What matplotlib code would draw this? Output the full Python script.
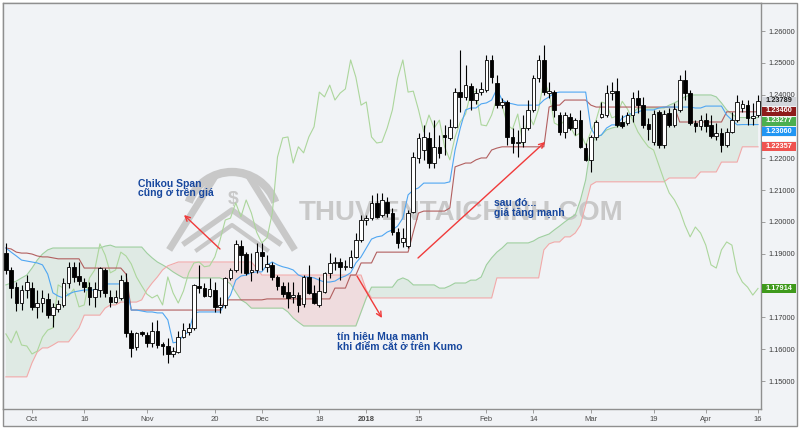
import matplotlib
matplotlib.use("Agg")
import matplotlib.pyplot as plt
import matplotlib.transforms as mtransforms
from matplotlib.patches import Rectangle, Arc
from matplotlib.lines import Line2D
import numpy as np

plt.rcParams['font.family'] = ['Liberation Sans', 'DejaVu Sans']

# ---------------- data ----------------
tick_labels = ["Oct", "16", "Nov", "20", "Dec", "18", "2018", "15", "Feb", "14", "Mar", "19", "Apr", "16"]
tick_bars = [5, 15, 27, 40, 49, 60, 69, 79, 92, 101, 112, 124, 134, 144]

opens = [1.1902, 1.1849, 1.1795, 1.1745, 1.1786, 1.1792, 1.1733, 1.1745, 1.1758, 1.1707,
         1.1726, 1.1739, 1.1808, 1.1859, 1.1830, 1.1811, 1.1795, 1.1764, 1.1786, 1.1849,
         1.1764, 1.1748, 1.1761, 1.1811, 1.1651, 1.1607, 1.1654, 1.1645, 1.1620, 1.1657,
         1.1616, 1.1610, 1.1585, 1.1591, 1.1638, 1.1654, 1.1667, 1.1799, 1.1792, 1.1767,
         1.1786, 1.1733, 1.1739, 1.1824, 1.1849, 1.1924, 1.1899, 1.1843, 1.1849, 1.1905,
         1.1859, 1.1865, 1.1827, 1.1799, 1.1780, 1.1764, 1.1770, 1.1742, 1.1827, 1.1777,
         1.1739, 1.1780, 1.1840, 1.1871, 1.1874, 1.1859, 1.1859, 1.1890, 1.1943, 1.2006,
         1.2012, 1.2060, 1.2022, 1.2063, 1.2028, 1.1968, 1.1937, 1.1924, 1.2031, 1.2201,
         1.2226, 1.2264, 1.2185, 1.2236, 1.2273, 1.2264, 1.2299, 1.2408, 1.2393, 1.2427,
         1.2383, 1.2408, 1.2415, 1.2509, 1.2437, 1.2367, 1.2377, 1.2267, 1.2248, 1.2251,
         1.2295, 1.2352, 1.2452, 1.2509, 1.2405, 1.2408, 1.2336, 1.2283, 1.2330, 1.2295,
         1.2320, 1.2232, 1.2195, 1.2267, 1.2330, 1.2336, 1.2405, 1.2411, 1.2314, 1.2311,
         1.2336, 1.2389, 1.2367, 1.2308, 1.2251, 1.2345, 1.2242, 1.2342, 1.2305, 1.2352,
         1.2446, 1.2405, 1.2311, 1.2302, 1.2320, 1.2305, 1.2270, 1.2280, 1.2242, 1.2283,
         1.2320, 1.2358, 1.2367, 1.2327, 1.2336]

highs = [1.1934, 1.1859, 1.1811, 1.1802, 1.1833, 1.1811, 1.1786, 1.1786, 1.1777, 1.1745,
         1.1755, 1.1824, 1.1874, 1.1874, 1.1874, 1.1824, 1.1811, 1.1811, 1.1859, 1.1855,
         1.1786, 1.1786, 1.1833, 1.1840, 1.1660, 1.1654, 1.1657, 1.1654, 1.1685, 1.1692,
         1.1623, 1.1635, 1.1607, 1.1657, 1.1682, 1.1682, 1.1805, 1.1865, 1.1808, 1.1824,
         1.1811, 1.1764, 1.1827, 1.1855, 1.1943, 1.1943, 1.1905, 1.1902, 1.1934, 1.1934,
         1.1896, 1.1874, 1.1833, 1.1811, 1.1811, 1.1811, 1.1780, 1.1833, 1.1865, 1.1802,
         1.1827, 1.1843, 1.1902, 1.1890, 1.1887, 1.1880, 1.1912, 1.1965, 1.2022, 1.2022,
         1.2085, 1.2091, 1.2091, 1.2078, 1.2044, 1.1981, 1.1981, 1.2037, 1.2220, 1.2280,
         1.2305, 1.2283, 1.2320, 1.2273, 1.2305, 1.2324, 1.2421, 1.2540, 1.2493, 1.2437,
         1.2421, 1.2440, 1.2525, 1.2525, 1.2462, 1.2389, 1.2383, 1.2295, 1.2289, 1.2336,
         1.2383, 1.2462, 1.2525, 1.2556, 1.2440, 1.2415, 1.2345, 1.2345, 1.2342, 1.2327,
         1.2352, 1.2248, 1.2273, 1.2320, 1.2377, 1.2430, 1.2440, 1.2452, 1.2336, 1.2345,
         1.2408, 1.2415, 1.2393, 1.2327, 1.2352, 1.2352, 1.2352, 1.2358, 1.2374, 1.2462,
         1.2477, 1.2415, 1.2320, 1.2336, 1.2342, 1.2336, 1.2311, 1.2295, 1.2295, 1.2345,
         1.2399, 1.2383, 1.2383, 1.2374, 1.2399]

lows = [1.1836, 1.1761, 1.1720, 1.1723, 1.1761, 1.1723, 1.1698, 1.1717, 1.1698, 1.1670,
        1.1717, 1.1733, 1.1792, 1.1811, 1.1802, 1.1780, 1.1739, 1.1733, 1.1764, 1.1764,
        1.1733, 1.1745, 1.1755, 1.1638, 1.1576, 1.1597, 1.1642, 1.1607, 1.1607, 1.1604,
        1.1582, 1.1557, 1.1576, 1.1588, 1.1635, 1.1645, 1.1660, 1.1777, 1.1764, 1.1764,
        1.1717, 1.1714, 1.1729, 1.1817, 1.1843, 1.1840, 1.1833, 1.1814, 1.1840, 1.1849,
        1.1843, 1.1817, 1.1786, 1.1764, 1.1729, 1.1745, 1.1717, 1.1733, 1.1773, 1.1742,
        1.1733, 1.1777, 1.1824, 1.1849, 1.1817, 1.1849, 1.1855, 1.1887, 1.1937, 1.1990,
        1.2006, 1.2012, 1.2016, 1.2016, 1.1959, 1.1918, 1.1921, 1.1918, 1.2028, 1.2185,
        1.2195, 1.2170, 1.2170, 1.2201, 1.2210, 1.2258, 1.2295, 1.2345, 1.2383, 1.2352,
        1.2371, 1.2399, 1.2408, 1.2437, 1.2358, 1.2358, 1.2242, 1.2217, 1.2204, 1.2236,
        1.2289, 1.2345, 1.2440, 1.2399, 1.2389, 1.2330, 1.2273, 1.2264, 1.2289, 1.2273,
        1.2232, 1.2191, 1.2157, 1.2258, 1.2327, 1.2330, 1.2383, 1.2299, 1.2295, 1.2305,
        1.2314, 1.2342, 1.2295, 1.2258, 1.2242, 1.2232, 1.2232, 1.2299, 1.2299, 1.2345,
        1.2383, 1.2305, 1.2283, 1.2289, 1.2283, 1.2264, 1.2258, 1.2220, 1.2236, 1.2280,
        1.2314, 1.2345, 1.2305, 1.2305, 1.2330]

closes = [1.1849, 1.1792, 1.1745, 1.1786, 1.1811, 1.1733, 1.1745, 1.1761, 1.1707, 1.1733,
          1.1742, 1.1808, 1.1859, 1.1827, 1.1814, 1.1795, 1.1764, 1.1789, 1.1855, 1.1777,
          1.1748, 1.1764, 1.1817, 1.1651, 1.1604, 1.1651, 1.1648, 1.1620, 1.1657, 1.1613,
          1.1610, 1.1585, 1.1594, 1.1638, 1.1660, 1.1667, 1.1802, 1.1792, 1.1767, 1.1789,
          1.1733, 1.1739, 1.1824, 1.1849, 1.1931, 1.1896, 1.1840, 1.1849, 1.1905, 1.1893,
          1.1868, 1.1827, 1.1799, 1.1773, 1.1761, 1.1770, 1.1739, 1.1827, 1.1777, 1.1745,
          1.1783, 1.1840, 1.1871, 1.1874, 1.1859, 1.1862, 1.1890, 1.1943, 1.2006, 1.2012,
          1.2060, 1.2016, 1.2069, 1.2028, 1.1968, 1.1934, 1.1950, 1.2028, 1.2204, 1.2264,
          1.2267, 1.2185, 1.2236, 1.2217, 1.2267, 1.2299, 1.2408, 1.2393, 1.2430, 1.2383,
          1.2405, 1.2418, 1.2509, 1.2455, 1.2367, 1.2377, 1.2267, 1.2248, 1.2251, 1.2295,
          1.2352, 1.2452, 1.2509, 1.2408, 1.2411, 1.2352, 1.2283, 1.2336, 1.2295, 1.2320,
          1.2236, 1.2195, 1.2267, 1.2314, 1.2339, 1.2405, 1.2411, 1.2305, 1.2302, 1.2336,
          1.2389, 1.2367, 1.2305, 1.2292, 1.2339, 1.2242, 1.2339, 1.2305, 1.2355, 1.2446,
          1.2405, 1.2311, 1.2302, 1.2320, 1.2302, 1.2270, 1.2280, 1.2242, 1.2283, 1.2320,
          1.2377, 1.2371, 1.2327, 1.2333, 1.2379]

tenkan = [1.1918, 1.1905, 1.1893, 1.1880, 1.1877, 1.1874, 1.1871, 1.1865, 1.1836, 1.1777,
          1.1767, 1.1761, 1.1773, 1.1780, 1.1783, 1.1786, 1.1786, 1.1786, 1.1786, 1.1805,
          1.1805, 1.1805, 1.1805, 1.1805, 1.1723, 1.1723, 1.1720, 1.1717, 1.1717, 1.1714,
          1.1714, 1.1692, 1.1620, 1.1623, 1.1645, 1.1654, 1.1714, 1.1717, 1.1717, 1.1717,
          1.1717, 1.1717, 1.1745, 1.1770, 1.1817, 1.1830, 1.1833, 1.1840, 1.1843, 1.1843,
          1.1865, 1.1874, 1.1865, 1.1859, 1.1855, 1.1849, 1.1833, 1.1827, 1.1827, 1.1824,
          1.1817, 1.1811, 1.1811, 1.1814, 1.1824, 1.1830, 1.1840, 1.1871, 1.1890, 1.1918,
          1.1946, 1.1953, 1.1956, 1.1968, 1.1975, 1.1987, 1.2012, 1.2085, 1.2100, 1.2107,
          1.2122, 1.2122, 1.2122, 1.2122, 1.2122, 1.2126, 1.2226, 1.2295, 1.2352, 1.2358,
          1.2358, 1.2371, 1.2374, 1.2383, 1.2418, 1.2383, 1.2374, 1.2371, 1.2367, 1.2367,
          1.2367, 1.2367, 1.2367, 1.2383, 1.2393, 1.2405, 1.2408, 1.2408, 1.2408, 1.2408,
          1.2408, 1.2408, 1.2295, 1.2267, 1.2273, 1.2295, 1.2305, 1.2305, 1.2327, 1.2336,
          1.2342, 1.2345, 1.2352, 1.2352, 1.2352, 1.2358, 1.2361, 1.2361, 1.2361, 1.2361,
          1.2361, 1.2361, 1.2358, 1.2358, 1.2364, 1.2364, 1.2364, 1.2364, 1.2336, 1.2320,
          1.2305, 1.2306, 1.2306, 1.2306, 1.2306]

kijun = [1.1918, 1.1915, 1.1905, 1.1902, 1.1902, 1.1899, 1.1893, 1.1890, 1.1890, 1.1887,
         1.1884, 1.1884, 1.1884, 1.1884, 1.1884, 1.1855, 1.1855, 1.1855, 1.1855, 1.1855,
         1.1855, 1.1855, 1.1855, 1.1836, 1.1723, 1.1723, 1.1723, 1.1723, 1.1723, 1.1723,
         1.1723, 1.1723, 1.1723, 1.1723, 1.1723, 1.1723, 1.1723, 1.1723, 1.1723, 1.1723,
         1.1723, 1.1723, 1.1755, 1.1755, 1.1755, 1.1755, 1.1755, 1.1755, 1.1755, 1.1755,
         1.1758, 1.1758, 1.1758, 1.1758, 1.1758, 1.1758, 1.1758, 1.1758, 1.1758, 1.1758,
         1.1758, 1.1758, 1.1758, 1.1792, 1.1792, 1.1792, 1.1833, 1.1833, 1.1871, 1.1871,
         1.1871, 1.1905, 1.1905, 1.1905, 1.1905, 1.1905, 1.1905, 1.1905, 1.1968, 1.2028,
         1.2034, 1.2034, 1.2034, 1.2034, 1.2034, 1.2044, 1.2173, 1.2179, 1.2185, 1.2185,
         1.2195, 1.2201, 1.2201, 1.2226, 1.2232, 1.2236, 1.2236, 1.2236, 1.2236, 1.2236,
         1.2236, 1.2236, 1.2236, 1.2236, 1.2361, 1.2367, 1.2367, 1.2383, 1.2383, 1.2383,
         1.2383, 1.2383, 1.2367, 1.2361, 1.2361, 1.2361, 1.2361, 1.2361, 1.2361, 1.2361,
         1.2361, 1.2361, 1.2361, 1.2361, 1.2361, 1.2361, 1.2361, 1.2361, 1.2361, 1.2314,
         1.2314, 1.2314, 1.2314, 1.2314, 1.2314, 1.2314, 1.2314, 1.2314, 1.2346, 1.2346,
         1.2346, 1.2346, 1.2346, 1.2346, 1.2346]

senkou_a = [1.1802, 1.1808, 1.1814, 1.1824, 1.1833, 1.1855, 1.1880, 1.1899, 1.1912, 1.1918,
            1.1918, 1.1918, 1.1918, 1.1918, 1.1918, 1.1918, 1.1918, 1.1918, 1.1918, 1.1924,
            1.1927, 1.1921, 1.1921, 1.1921, 1.1921, 1.1921, 1.1921, 1.1902, 1.1887, 1.1874,
            1.1865, 1.1855, 1.1843, 1.1833, 1.1824, 1.1824, 1.1824, 1.1824, 1.1824, 1.1824,
            1.1824, 1.1824, 1.1817, 1.1805, 1.1780, 1.1755, 1.1745, 1.1729, 1.1729, 1.1729,
            1.1729, 1.1729, 1.1729, 1.1729, 1.1717, 1.1698, 1.1685, 1.1673, 1.1673, 1.1673,
            1.1673, 1.1673, 1.1673, 1.1673, 1.1673, 1.1673, 1.1673, 1.1673, 1.1717, 1.1761,
            1.1795, 1.1795, 1.1795, 1.1795, 1.1795, 1.1817, 1.1824, 1.1817, 1.1802, 1.1802,
            1.1802, 1.1802, 1.1802, 1.1792, 1.1792, 1.1799, 1.1808, 1.1808, 1.1808, 1.1817,
            1.1817, 1.1827, 1.1865, 1.1887, 1.1905, 1.1918, 1.1934, 1.1934, 1.1934, 1.1934,
            1.1934, 1.1940, 1.1950, 1.1956, 1.1962, 1.1975, 1.1987, 1.2000, 1.2012, 1.2022,
            1.2069, 1.2132, 1.2242, 1.2267, 1.2273, 1.2289, 1.2295, 1.2299, 1.2305, 1.2320,
            1.2342, 1.2358, 1.2358, 1.2358, 1.2358, 1.2358, 1.2358, 1.2367, 1.2374, 1.2383,
            1.2393, 1.2399, 1.2399, 1.2399, 1.2399, 1.2399, 1.2393, 1.2374, 1.2352, 1.2339,
            1.2328, 1.2328, 1.2328, 1.2328, 1.2328]

senkou_b = [1.1513, 1.1513, 1.1513, 1.1513, 1.1513, 1.1557, 1.1591, 1.1604, 1.1604, 1.1613,
            1.1623, 1.1623, 1.1623, 1.1645, 1.1667, 1.1707, 1.1707, 1.1707, 1.1707, 1.1729,
            1.1739, 1.1739, 1.1748, 1.1748, 1.1748, 1.1748, 1.1755, 1.1786, 1.1808, 1.1827,
            1.1849, 1.1862, 1.1868, 1.1874, 1.1874, 1.1874, 1.1874, 1.1874, 1.1874, 1.1874,
            1.1874, 1.1874, 1.1874, 1.1874, 1.1874, 1.1874, 1.1874, 1.1874, 1.1855, 1.1833,
            1.1833, 1.1833, 1.1833, 1.1833, 1.1833, 1.1833, 1.1833, 1.1833, 1.1833, 1.1833,
            1.1833, 1.1833, 1.1833, 1.1833, 1.1833, 1.1833, 1.1833, 1.1833, 1.1833, 1.1786,
            1.1761, 1.1761, 1.1761, 1.1761, 1.1761, 1.1761, 1.1761, 1.1761, 1.1761, 1.1761,
            1.1761, 1.1761, 1.1761, 1.1761, 1.1761, 1.1761, 1.1761, 1.1761, 1.1761, 1.1761,
            1.1761, 1.1761, 1.1761, 1.1761, 1.1824, 1.1824, 1.1824, 1.1824, 1.1824, 1.1824,
            1.1824, 1.1824, 1.1824, 1.1912, 1.1931, 1.1937, 1.1937, 1.1953, 1.1953, 1.1965,
            1.1990, 1.2053, 1.2116, 1.2126, 1.2126, 1.2126, 1.2126, 1.2126, 1.2126, 1.2126,
            1.2126, 1.2126, 1.2126, 1.2126, 1.2126, 1.2126, 1.2126, 1.2138, 1.2138, 1.2138,
            1.2138, 1.2138, 1.2138, 1.2157, 1.2157, 1.2157, 1.2157, 1.2188, 1.2188, 1.2188,
            1.2188, 1.2236, 1.2236, 1.2236, 1.2236]

# closes after the visible window, used by the lagging (Chikou) span
chikou_future = [1.2355, 1.2320, 1.2283, 1.2258, 1.2236, 1.2226, 1.2179, 1.2132, 1.2091, 1.2069,
                 1.2037, 1.1990, 1.1953, 1.1984, 1.1965, 1.1927, 1.1865, 1.1855, 1.1912, 1.1937,
                 1.1927, 1.1843, 1.1811, 1.1795, 1.1770, 1.1791]
chikou_shift = 26

y_ticks = [1.15, 1.16, 1.17, 1.18, 1.19, 1.20, 1.21, 1.22, 1.23, 1.24, 1.25, 1.26]
# tick labels that sit fully under a value label box on the price scale
covered_ticks = [1.18, 1.23]

# right-axis value labels: (text, box colour, text colour, box top px, box bottom px)
value_labels = [("1.23789", "#d3d6dc", "#202020", 96.5, 105.5),
                ("1.23460", "#8e1b1b", "white", 106.5, 115.5),
                ("1.23277", "#4caf50", "white", 116.5, 125.5),
                ("1.23060", "#2196f3", "white", 127.0, 136.0),
                ("", "#ffffff", "white", 137.0, 141.0),
                ("1.22357", "#ef5350", "white", 142.0, 151.0),
                ("1.17914", "#3f9a1c", "white", 283.5, 292.5)]

# ---------------- figure ----------------
W, H = 800, 429
BG = '#f1f3f6'
fig = plt.figure(figsize=(W / 100, H / 100), dpi=100)
fig.patch.set_facecolor('white')
fig.add_artist(Rectangle((3 / W, 3 / H), 794 / W, 423 / H, transform=fig.transFigure,
                         facecolor=BG, edgecolor='#8f8f8f', lw=1.0, zorder=-10))

ax = fig.add_axes([3 / W, 20 / H, 758 / W, 406 / H])
ax.set_facecolor(BG)
for s in ax.spines.values():
    s.set_color('#8f8f8f')
    s.set_linewidth(1.0)

x = np.arange(len(closes))
o = np.array(opens); h = np.array(highs); l = np.array(lows); c = np.array(closes)
sa = np.array(senkou_a); sb = np.array(senkou_b)

# cloud
ax.fill_between(x, sa, sb, where=sa >= sb, interpolate=True, color='#43a047', alpha=0.10, lw=0, zorder=1)
ax.fill_between(x, sa, sb, where=sa < sb, interpolate=True, color='#e53935', alpha=0.12, lw=0, zorder=1)

# watermark (behind everything that carries data)
idt = mtransforms.IdentityTransform()
wm = '#c8c8c8'
ax.add_patch(Arc((232, H - 218), 92, 92, theta1=20, theta2=160, lw=6, color=wm, transform=idt, zorder=1.5))
ax.add_line(Line2D([171, 214], [H - 247, H - 178], lw=5, color=wm, transform=idt, zorder=1.5))
ax.add_line(Line2D([250, 293], [H - 178, H - 247], lw=5, color=wm, transform=idt, zorder=1.5))
ax.add_line(Line2D([185, 232, 279], [H - 243, H - 210, H - 243], lw=4, color=wm, transform=idt, zorder=1.5))
ax.add_line(Line2D([197, 232, 267], [H - 250, H - 225, H - 250], lw=3, color=wm, transform=idt, zorder=1.5))
ax.text(233, H - 200, '$', transform=idt, fontsize=14, fontweight='bold', color=wm,
        ha='center', va='center', zorder=1.5)
ax.text(296 / 758, (409 - 213.5) / 406, 'THUVIENTAICHINH.COM', transform=ax.transAxes,
        fontsize=20, fontweight='bold', color=wm, ha='left', va='center',
        family='Liberation Sans', zorder=1.5)

# ichimoku lines
lw = 0.8
ax.plot(x, sa, color='#9fcf9f', lw=lw, zorder=2)
ax.plot(x, sb, color='#f2a9a9', lw=lw, zorder=2)
chikou = list(closes[chikou_shift:]) + chikou_future
ax.plot(x, chikou, color='#acd69c', lw=lw, zorder=2)
ax.plot(x, kijun, color='#b25f5f', lw=lw, zorder=2.2)
ax.plot(x, tenkan, color='#4fa6f2', lw=lw, zorder=2.2)

# candles
ax.vlines(x, l, h, color='black', lw=0.8, zorder=3)
up = c >= o
body_lo = np.minimum(o, c)
body_h = np.maximum(np.abs(c - o), 0.00008)
ax.bar(x[up], body_h[up], bottom=body_lo[up], width=0.7, color='white', edgecolor='black', lw=0.6, zorder=4)
ax.bar(x[~up], body_h[~up], bottom=body_lo[~up], width=0.7, color='black', edgecolor='black', lw=0.6, zorder=4)

ax.set_xlim(-0.555, 144.57)
ax.set_ylim(1.1412, 1.2688)

# axes ticks
ax.yaxis.tick_right()
ax.set_yticks(y_ticks)
ax.set_yticklabels(["" if any(abs(v - cv) < 1e-9 for cv in covered_ticks) else f"{v:.5f}" for v in y_ticks])
ax.tick_params(axis='y', length=3, width=0.6, color='#8f8f8f', labelsize=5.3, labelcolor='#3a3a3a', pad=2)
ax.set_xticks(tick_bars)
ax.set_xticklabels(tick_labels)
ax.tick_params(axis='x', length=3, width=0.6, color='#8f8f8f', labelsize=5.5, labelcolor='#4a4a4a', pad=2)
for t in ax.get_xticklabels():
    if t.get_text() == "2018":
        t.set_fontweight('bold')

# annotations
txt_col = '#17479e'
def ftxt(px, py, s):
    ax.text((px - 3) / 758, (409 - py) / 406, s, transform=ax.transAxes, fontsize=7.5,
            fontweight='bold', color=txt_col, ha='left', va='center', zorder=6)

ftxt(138, 184, "Chikou Span")
ftxt(138, 193.5, "cũng ở trên giá")
ftxt(494, 203, "sau đó...")
ftxt(494, 212.5, "giá tăng mạnh")
ftxt(337, 337, "tín hiệu Mua mạnh")
ftxt(337, 346.5, "khi điểm cắt ở trên Kumo")

def farrow(p0, p1):
    ax.annotate('', xy=((p1[0] - 3) / 758, (409 - p1[1]) / 406),
                xytext=((p0[0] - 3) / 758, (409 - p0[1]) / 406),
                xycoords='axes fraction', textcoords='axes fraction',
                arrowprops=dict(arrowstyle='->', color='#f03a3a', lw=1.0, mutation_scale=9,
                                shrinkA=0, shrinkB=0), zorder=6)

farrow((220, 249), (184, 215))
farrow((418, 258), (545, 142))
farrow((357, 276), (382, 318))

# right-axis value labels
for text, bcol, tcol, top, bot in value_labels:
    fig.add_artist(Rectangle((762 / W, (H - bot) / H), 34 / W, (bot - top) / H,
                             transform=fig.transFigure, facecolor=bcol, edgecolor='none', zorder=5))
    if text:
        fig.text(766 / W, (H - (top + bot) / 2) / H, text, fontsize=5.3, fontweight='bold',
                 color=tcol, ha='left', va='center', zorder=6)

fig.savefig('out.png', dpi=100, facecolor='white')
